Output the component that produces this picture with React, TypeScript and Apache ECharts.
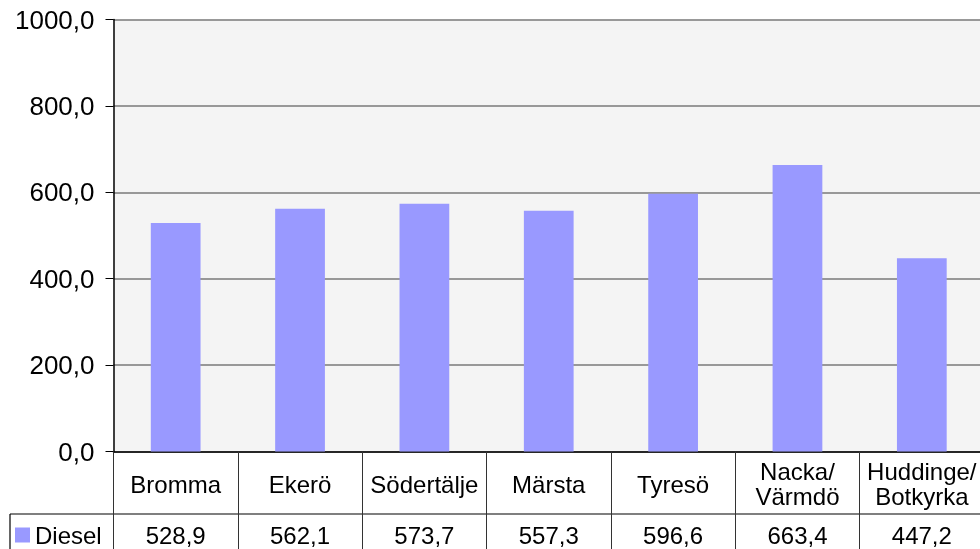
import React, { useEffect, useRef } from "react";
import * as echarts from "echarts";

const categories = ["Bromma", "Ekerö", "Södertälje", "Märsta", "Tyresö", "Nacka/\nVärmdö", "Huddinge/\nBotkyrka"];
const seriesName = "Diesel";
const dieselValues = [528.9, 562.1, 573.7, 557.3, 596.6, 663.4, 447.2];
const yMin = 0;
const yMax = 1000;
const yInterval = 200;

const fmt = (v: number) => v.toFixed(1).replace(".", ",");
const FONT = "'Liberation Sans', Arial, sans-serif";

export default function App() {
  const ref = useRef<HTMLDivElement>(null);
  useEffect(() => {
    if (!ref.current) return;
    const chart = echarts.init(ref.current, null, { renderer: "svg" });
    chart.setOption({
      animation: false,
      textStyle: { fontFamily: FONT },
      legend: {
        data: [seriesName],
        left: 15,
        top: 523,
        padding: 0,
        itemWidth: 15,
        itemHeight: 15,
        icon: "rect",
        selectedMode: false,
        textStyle: { fontSize: 24, color: "#000", lineHeight: 24, fontFamily: FONT },
      },
      grid: {
        left: 113.5,
        right: 2,
        top: 19.5,
        height: 432,
        show: true,
        backgroundColor: "#f4f4f4",
        borderWidth: 0,
      },
      xAxis: [
        {
          type: "category",
          data: categories,
          position: "bottom",
          axisLine: { show: true, lineStyle: { color: "#000", width: 1.5 } },
          axisTick: { show: true, interval: 0, length: 100, lineStyle: { color: "#333", width: 1 } },
          axisLabel: {
            interval: 0,
            margin: 32.5,
            verticalAlign: "middle",
            fontSize: 24,
            lineHeight: 25,
            color: "#000",
            fontFamily: FONT,
          },
        },
        {
          type: "category",
          data: dieselValues.map(fmt),
          position: "bottom",
          axisLine: { show: false },
          axisTick: { show: false },
          axisLabel: {
            interval: 0,
            margin: 83.5,
            verticalAlign: "middle",
            fontSize: 24,
            color: "#000",
            fontFamily: FONT,
          },
        },
      ],
      yAxis: {
        type: "value",
        min: yMin,
        max: yMax,
        interval: yInterval,
        axisLine: { show: true, lineStyle: { color: "#000", width: 1.5 } },
        axisTick: { show: true, length: 8, lineStyle: { color: "#000" } },
        axisLabel: { formatter: (v: number) => fmt(v), fontSize: 26, color: "#000", margin: 19, fontFamily: FONT },
        splitLine: { show: true, lineStyle: { color: "#7a7a7a", width: 1.5 } },
      },
      graphic: [
        { type: "line", shape: { x1: 10, y1: 514, x2: 986, y2: 514 }, style: { stroke: "#000", lineWidth: 1.2 } },
        { type: "line", shape: { x1: 10, y1: 514, x2: 10, y2: 549 }, style: { stroke: "#000", lineWidth: 1.2 } },
      ],
      series: [
        {
          name: seriesName,
          type: "bar",
          data: dieselValues,
          xAxisIndex: 0,
          barWidth: "40%",
          itemStyle: { color: "#9999ff" },
        },
      ],
    });
    return () => chart.dispose();
  }, []);
  return (
    <div style={{ position: "fixed", left: 0, top: 0, width: 980, height: 549, overflow: "hidden" }}>
      <div ref={ref} style={{ width: 986, height: 549 }} />
    </div>
  );
}
